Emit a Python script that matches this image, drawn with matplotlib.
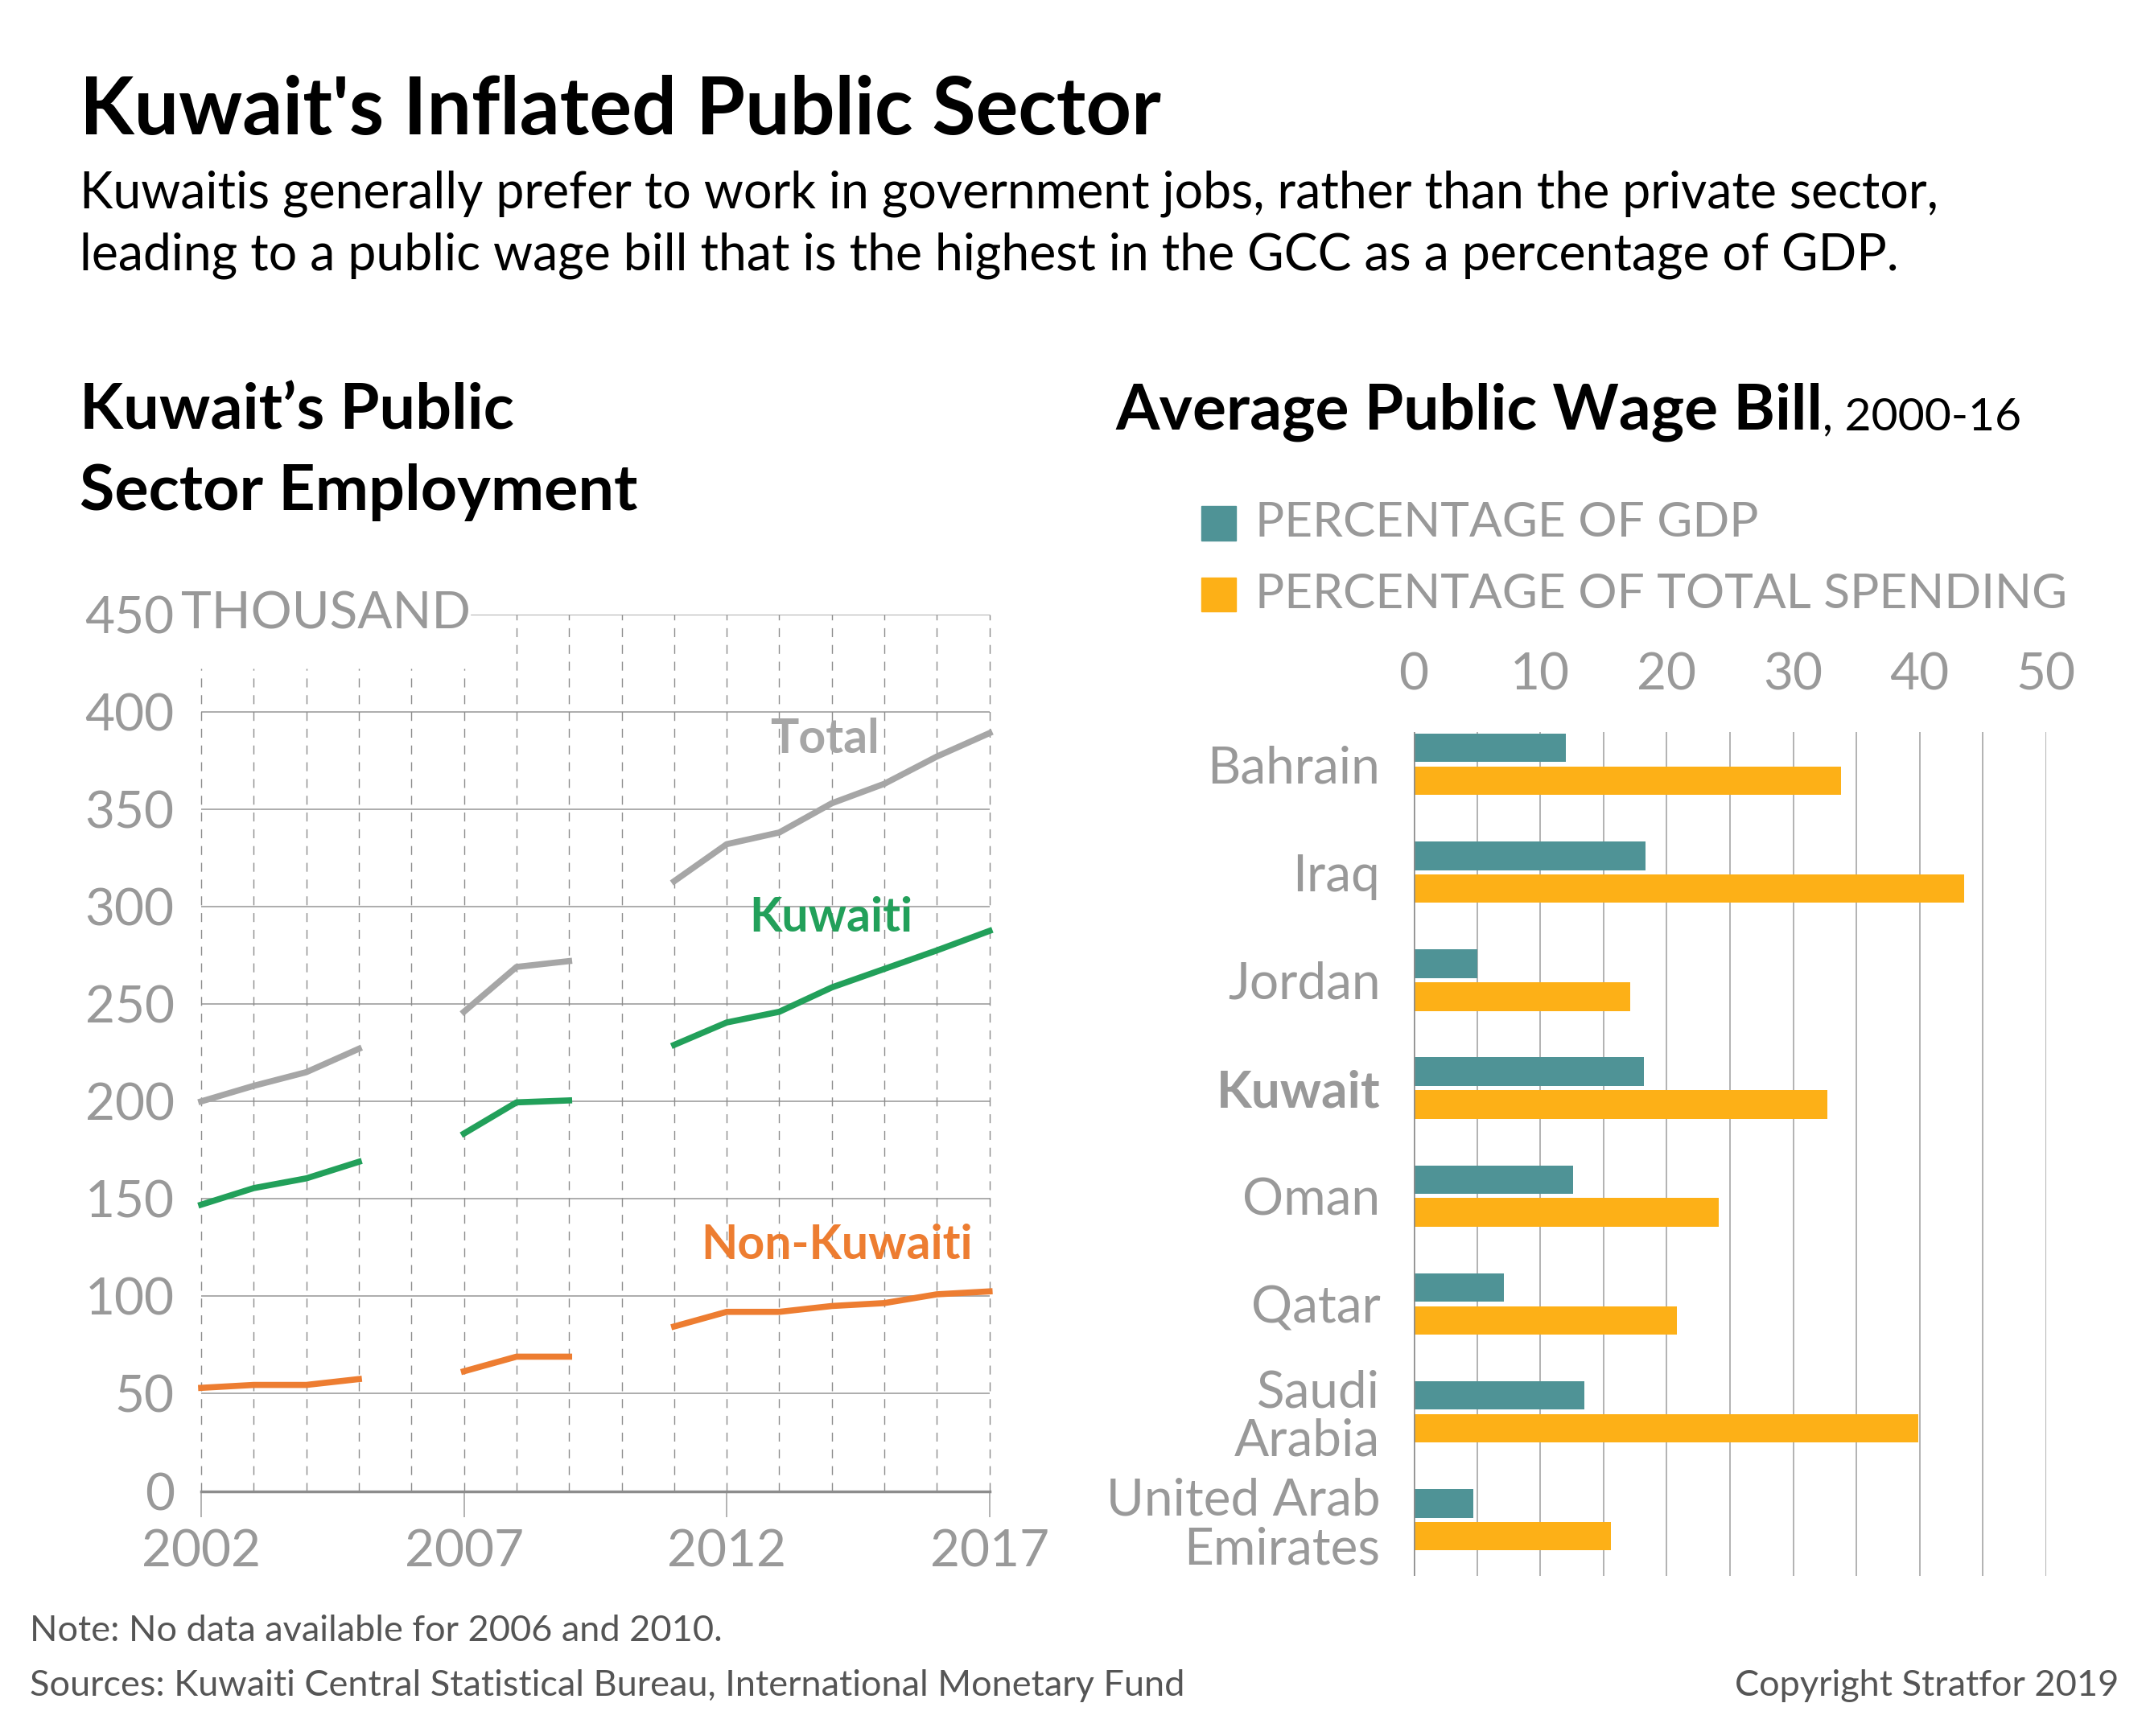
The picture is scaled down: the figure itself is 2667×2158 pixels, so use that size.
import numpy as np
import matplotlib
matplotlib.use("Agg")
import matplotlib.pyplot as plt
from matplotlib.patches import Rectangle

plt.rcParams['font.family'] = ['Lato', 'DejaVu Sans']

# left chart: public sector employment, thousands (no data for 2006 and 2010)
years = [2002, 2003, 2004, 2005, 2006, 2007, 2008, 2009, 2010, 2011, 2012, 2013, 2014, 2015, 2016, 2017]
total = [200, 208, 215, 227, np.nan, 246, 269, 272, np.nan, 313, 332, 338, 353, 363, 377, 389]
kuwaiti = [147, 155.5, 160.5, 169, np.nan, 183.5, 199.5, 200.5, np.nan, 229, 240.5, 246, 258.5, 268, 277.5, 287.5]
non_kuwaiti = [53, 54.5, 54.5, 57.5, np.nan, 61.5, 69, 69, np.nan, 84.5, 92, 92, 95, 96.5, 101, 102.5]

# right chart: average public wage bill 2000-16
countries = ['Bahrain', 'Iraq', 'Jordan', 'Kuwait', 'Oman', 'Qatar', 'Saudi\nArabia', 'United Arab\nEmirates']
pct_gdp = [12.0, 18.3, 5.0, 18.2, 12.6, 7.1, 13.5, 4.7]
pct_spending = [33.8, 43.5, 17.1, 32.7, 24.1, 20.8, 39.9, 15.6]

GRAY = '#999999'
GRID = '#a6a6a6'
C_TOTAL = '#a6a6a6'
C_KUW = '#22a05a'
C_NON = '#ed7d31'
C_GDP = '#4f9396'
C_SPEND = '#fdb017'

W, H = 1568.0, 1269.0  # layout measured on the shrunk reference


def fx(x):
    return x / W


def fy(y):
    return 1 - y / H


fig = plt.figure(figsize=(26.67, 21.58), dpi=100)

# titles
fig.text(fx(58), fy(98), "Kuwait's Inflated Public Sector", fontsize=71, fontweight='bold',
         color='black', va='baseline')
fig.text(fx(58), fy(152), "Kuwaitis generally prefer to work in government jobs, rather than the private sector,",
         fontsize=45, color='black', va='baseline')
fig.text(fx(58), fy(197), "leading to a public wage bill that is the highest in the GCC as a percentage of GDP.",
         fontsize=45, color='black', va='baseline')

fig.text(fx(58), fy(314), "Kuwait\u2019s Public", fontsize=57, fontweight='bold', va='baseline')
fig.text(fx(58), fy(373), "Sector Employment", fontsize=57, fontweight='bold', va='baseline')

t = fig.text(fx(815), fy(314), "Average Public Wage Bill", fontsize=56.5, fontweight='bold', va='baseline')
r = fig.canvas.get_renderer()
bb = t.get_window_extent(renderer=r)
fig.text(bb.x1 / fig.bbox.width, fy(314), ", 2000-16", fontsize=41, va='baseline')

# ---- left chart
ax1 = fig.add_axes([fx(147), fy(1090), fx(723) - fx(147), fy(449) - fy(1090)])
ax1.set_xlim(2002, 2017)
ax1.set_ylim(0, 450)
for s in ['top', 'right', 'left']:
    ax1.spines[s].set_visible(False)
ax1.spines['bottom'].set_color('#8c8c8c')
ax1.spines['bottom'].set_linewidth(2.5)
ax1.spines['bottom'].set_zorder(4)

for v in range(50, 401, 50):
    ax1.axhline(v, color=GRID, lw=1.3, zorder=1)
ax1.axhline(450, xmin=(2007.15 - 2002) / 15, xmax=1, color=GRID, lw=1.3, zorder=1)
for yr in years:
    top = 450 if yr > 2007.2 else 422
    ax1.plot([yr, yr], [0, top], color='#8c8c8c', lw=1.0, ls=(0, (8, 7)), zorder=1, clip_on=False)

ax1.plot(years, total, color=C_TOTAL, lw=5.5, zorder=3, clip_on=False)
ax1.plot(years, kuwaiti, color=C_KUW, lw=5.5, zorder=3, clip_on=False)
ax1.plot(years, non_kuwaiti, color=C_NON, lw=5.5, zorder=3, clip_on=False)

ax1.text(2013.87, 386, 'Total', color=C_TOTAL, fontsize=42.5, fontweight='bold', ha='center', va='center')
ax1.text(2013.98, 294, 'Kuwaiti', color=C_KUW, fontsize=42.5, fontweight='bold', ha='center', va='center')
ax1.text(2014.1, 126, 'Non-Kuwaiti', color=C_NON, fontsize=42.5, fontweight='bold', ha='center', va='center')

ax1.set_yticks(range(0, 451, 50))
ax1.set_yticklabels([str(v) for v in range(0, 451, 50)])
ax1.tick_params(axis='y', length=0, pad=24, labelsize=46, labelcolor=GRAY)
ax1.set_xticks([2002, 2007, 2012, 2017])
ax1.tick_params(axis='x', length=23, width=1.2, color=GRID, pad=11, labelsize=46, labelcolor=GRAY)
ax1.text(2001.62, 450, 'THOUSAND', fontsize=46, color=GRAY, va='center', ha='left', zorder=2)

# ---- right chart
ax2 = fig.add_axes([fx(1033), fy(1152), fx(1495) - fx(1033), fy(535) - fy(1152)])
y = np.arange(len(countries))
bh = 0.265
off = 0.152
ax2.barh(y - off, pct_gdp, height=bh, color=C_GDP, zorder=3)
ax2.barh(y + off, pct_spending, height=bh, color=C_SPEND, zorder=3)
ax2.set_xlim(0, 50)
ax2.set_ylim(7.52, -0.3)
for s in ax2.spines.values():
    s.set_visible(False)
for v in range(5, 51, 5):
    ax2.axvline(v, color=GRID, lw=1.2, zorder=1)
ax2.axvline(0, color='#8c8c8c', lw=1.8, zorder=4)
ax2.set_xticks(range(0, 51, 10))
ax2.xaxis.tick_top()
ax2.tick_params(axis='x', length=0, pad=30, labelsize=46, labelcolor=GRAY)
ax2.set_yticks(y)
ax2.set_yticklabels(countries, linespacing=1.05)
ax2.tick_params(axis='y', length=0, pad=30, labelsize=46, labelcolor=GRAY)
for lab in ax2.get_yticklabels():
    if lab.get_text() == 'Kuwait':
        lab.set_fontweight('bold')

# legend
for (ytop, col, txt) in [(370, C_GDP, 'PERCENTAGE OF GDP'), (422, C_SPEND, 'PERCENTAGE OF TOTAL SPENDING')]:
    fig.add_artist(Rectangle((fx(878), fy(ytop + 25)), fx(903) - fx(878), fy(ytop) - fy(ytop + 25),
                             transform=fig.transFigure, color=col))
    fig.text(fx(917), fy(ytop + 12.5), txt, fontsize=43.5, color=GRAY, va='center', ha='left')

# notes
fig.text(fx(22), fy(1192), 'Note: No data available for 2006 and 2010.', fontsize=32.5, color='#555555', va='center')
fig.text(fx(22), fy(1232), 'Sources: Kuwaiti Central Statistical Bureau, International Monetary Fund',
         fontsize=32.5, color='#555555', va='center')
fig.text(fx(1548), fy(1232), 'Copyright Stratfor 2019', fontsize=32.5, color='#555555', va='center', ha='right')

fig.savefig('out.png', dpi=100, facecolor='white')
